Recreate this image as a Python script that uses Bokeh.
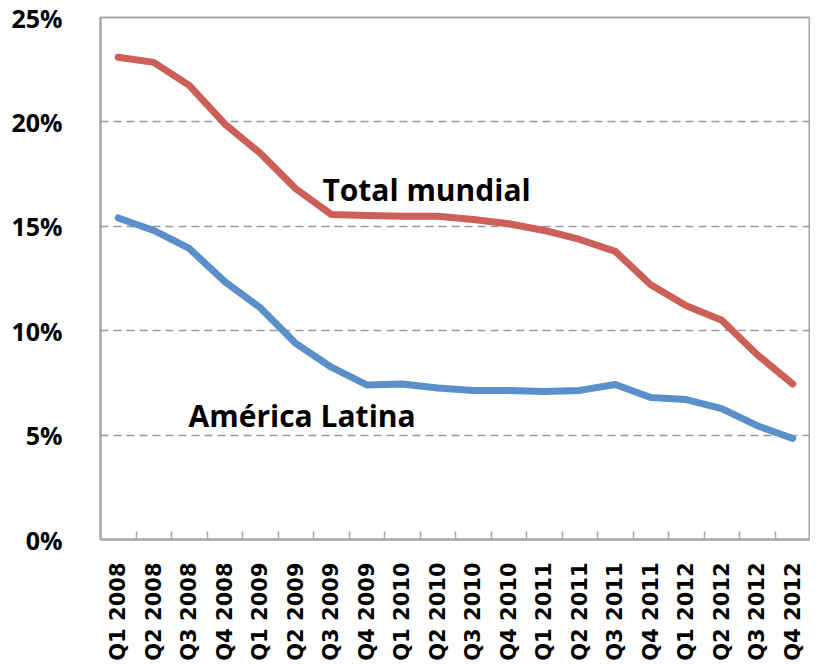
from bokeh.plotting import figure
from bokeh.models import Range1d, FixedTicker, PrintfTickFormatter, Label, ColumnDataSource
from bokeh.embed import file_html
from bokeh.resources import INLINE
import math

quarters = ["Q1 2008", "Q2 2008", "Q3 2008", "Q4 2008",
            "Q1 2009", "Q2 2009", "Q3 2009", "Q4 2009",
            "Q1 2010", "Q2 2010", "Q3 2010", "Q4 2010",
            "Q1 2011", "Q2 2011", "Q3 2011", "Q4 2011",
            "Q1 2012", "Q2 2012", "Q3 2012", "Q4 2012"]
total_mundial = [23.1, 22.85, 21.75, 19.9, 18.5, 16.8, 15.57, 15.52, 15.48, 15.48,
                 15.33, 15.12, 14.8, 14.37, 13.8, 12.2, 11.2, 10.5, 8.85, 7.45]
america_latina = [15.4, 14.8, 13.94, 12.35, 11.1, 9.39, 8.25, 7.4, 7.45, 7.26,
                  7.14, 7.14, 7.09, 7.14, 7.42, 6.8, 6.7, 6.27, 5.45, 4.84]
y_ticks = [0, 5, 10, 15, 20, 25]

idx = list(range(len(quarters)))
src = ColumnDataSource(dict(x=idx, tm=total_mundial, al=america_latina))

p = figure(width=810, height=656, frame_width=710, frame_height=522,
           min_border_left=100, min_border_right=0, min_border_top=17, min_border_bottom=117,
           x_range=Range1d(-0.5, len(quarters) - 0.5), y_range=Range1d(0, 25),
           output_backend="svg", toolbar_location=None)

p.background_fill_color = "white"
p.border_fill_color = "white"
p.outline_line_color = "#a6a6a6"
p.outline_line_width = 2

p.line("x", "tm", source=src, line_color="#CC5F57", line_width=7, line_cap="round", line_join="round")
p.line("x", "al", source=src, line_color="#5A8FC9", line_width=7, line_cap="round", line_join="round")

# y axis
p.yaxis.ticker = FixedTicker(ticks=y_ticks)
p.yaxis.formatter = PrintfTickFormatter(format="%d%%")
p.yaxis.major_tick_line_color = None
p.yaxis.minor_tick_line_color = None
p.yaxis.axis_line_color = "#a6a6a6"
p.yaxis.axis_line_width = 2
p.yaxis.major_label_standoff = 32
p.yaxis.major_label_text_font = "Open Sans"
p.yaxis.major_label_text_font_style = "bold"
p.yaxis.major_label_text_font_size = "25px"
p.yaxis.major_label_text_color = "black"

# x axis
p.xaxis.ticker = FixedTicker(ticks=idx, minor_ticks=[i + 0.5 for i in idx[:-1]])
p.xaxis.major_label_overrides = {i: q for i, q in zip(idx, quarters)}
p.xaxis.major_tick_line_color = None
p.xaxis.minor_tick_line_color = "#a6a6a6"
p.xaxis.minor_tick_line_width = 1.5
p.xaxis.minor_tick_in = 8
p.xaxis.minor_tick_out = 0
p.xaxis.axis_line_color = "#a6a6a6"
p.xaxis.axis_line_width = 2
p.xaxis.major_label_orientation = math.pi / 2
p.xaxis.major_label_standoff = 17
p.xaxis.major_label_text_font = "DejaVu Sans"
p.xaxis.major_label_text_font_style = "bold"
p.xaxis.major_label_text_font_size = "21px"
p.xaxis.major_label_text_color = "black"

# grid
p.xgrid.grid_line_color = None
p.ygrid.ticker = FixedTicker(ticks=y_ticks[1:-1])
p.ygrid.grid_line_color = "#999999"
p.ygrid.grid_line_width = 1.5
p.ygrid.grid_line_dash = "8 5"

p.add_layout(Label(x=5.75, y=16.78, text="Total mundial", text_font="Open Sans",
                   text_font_style="bold", text_font_size="30px", text_color="black",
                   text_align="left", text_baseline="alphabetic"))
p.add_layout(Label(x=1.98, y=5.96, text="América Latina", text_font="Open Sans",
                   text_font_style="bold", text_font_size="30px", text_color="black",
                   text_align="left", text_baseline="alphabetic"))

open("out.html", "w").write(file_html(p, INLINE))
